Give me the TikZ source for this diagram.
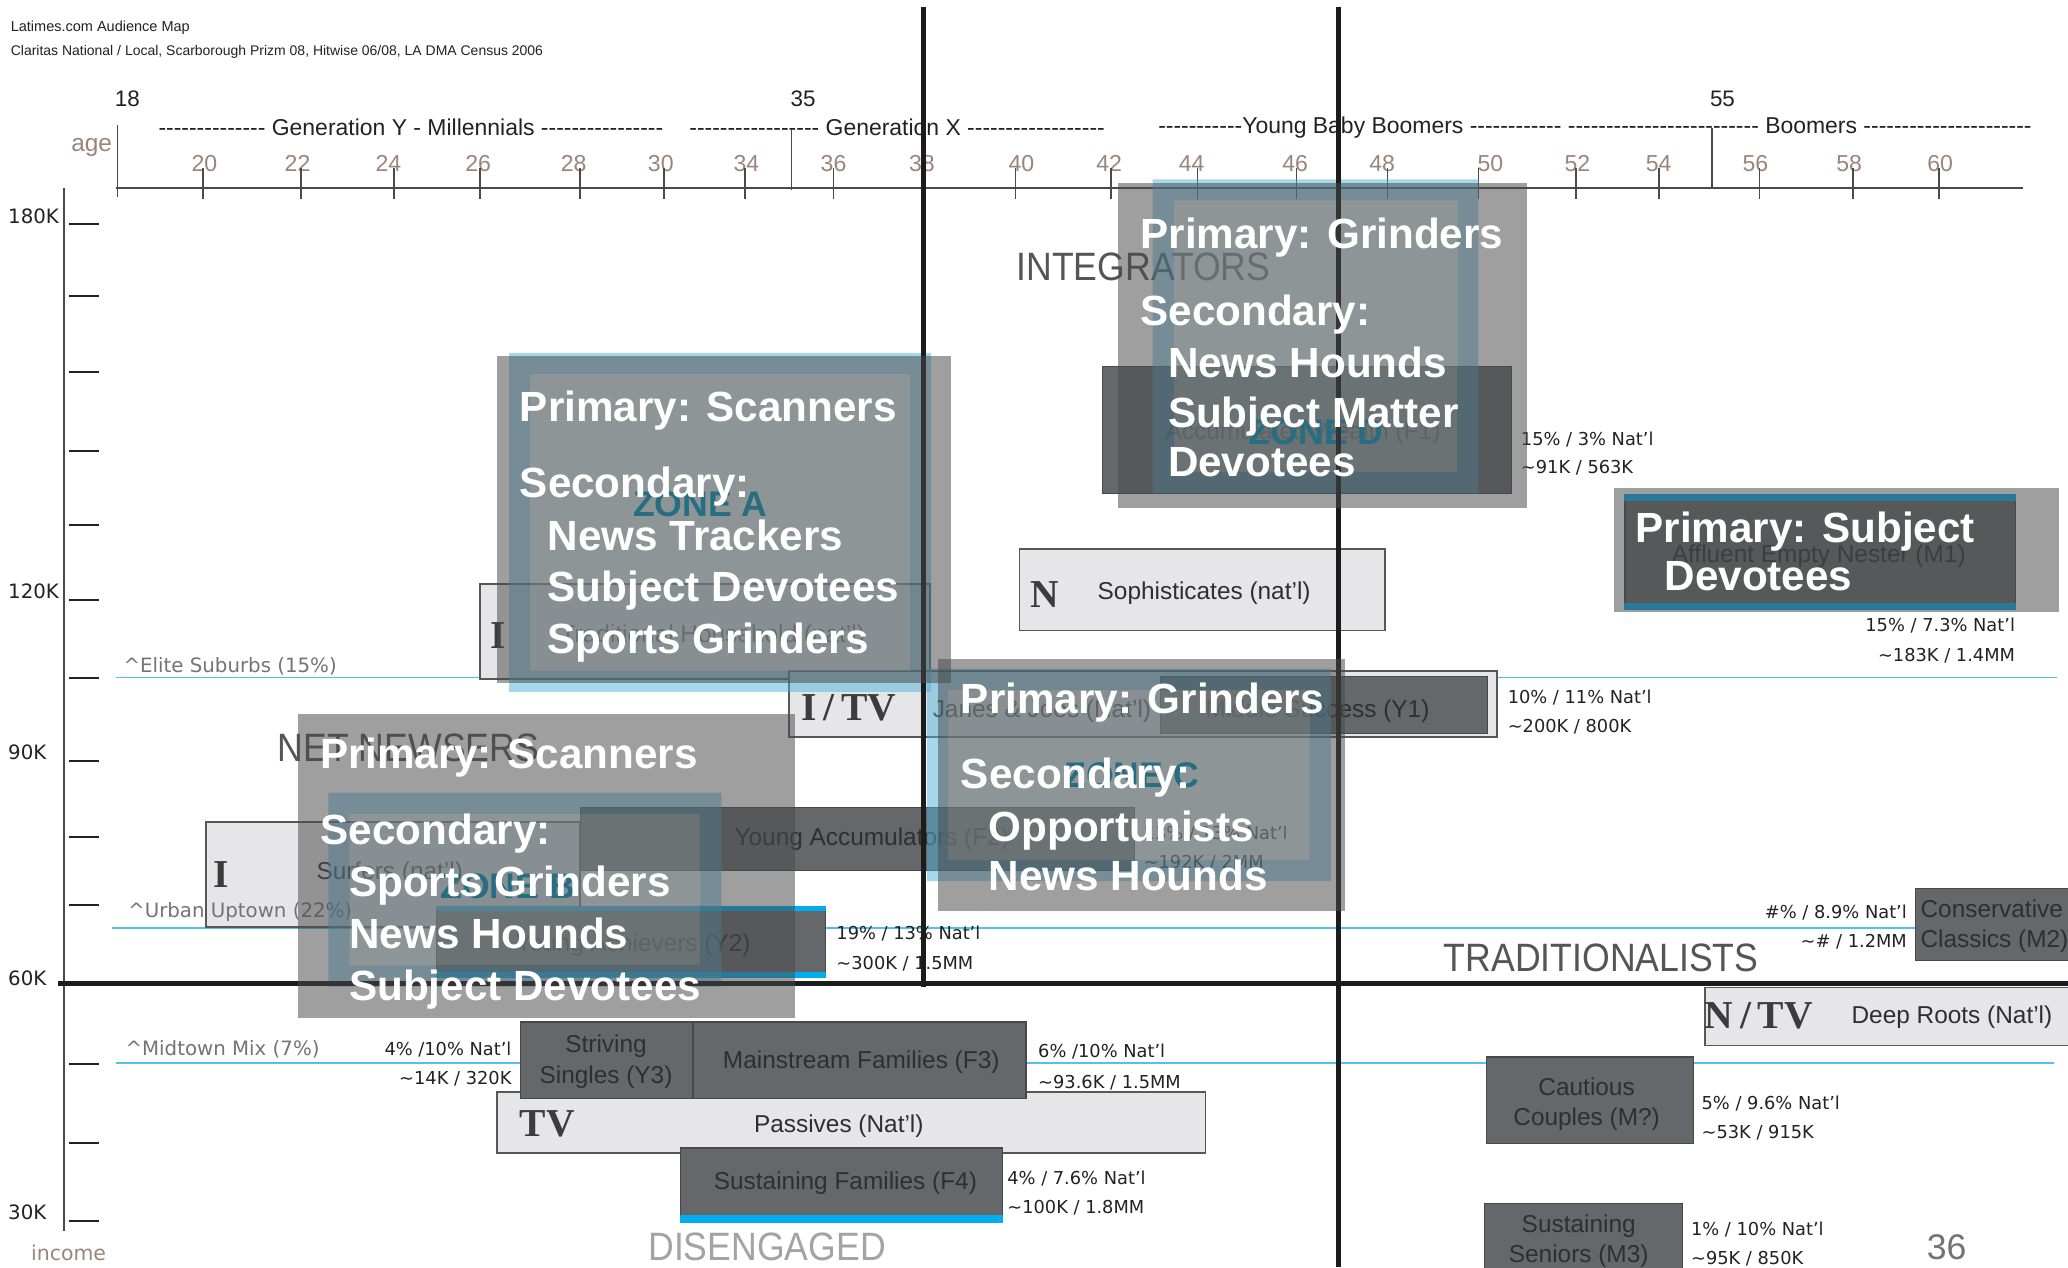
\documentclass[tikz,border=0pt]{standalone}
\usepackage{fontspec}
\usepackage{graphicx}
\setmainfont{Liberation Sans}
\newfontfamily\dejavu{DejaVu Sans}
\newfontfamily\slab{Liberation Serif}

\newcommand\setsz[1]{\fontsize{#1}{#1}\selectfont}
\newcommand\boxfont{\fontsize{18.5}{23}\selectfont}
% a run of separate hyphens (boxed so they never merge into dashes)
\newcommand\hy[1]{\foreach \dashidx in {1,...,#1}{\mbox{-}}}

\definecolor{ink}{HTML}{222222}
\definecolor{boxdark}{HTML}{66676B}
\definecolor{boxedge}{HTML}{47484A}
\definecolor{boxtext}{HTML}{2F2F2F}
\definecolor{boxlight}{HTML}{E6E6E8}
\definecolor{lightedge}{HTML}{56575A}
\definecolor{segblue}{HTML}{4FC3EE}
\definecolor{seggray}{HTML}{747474}
\definecolor{barblue}{HTML}{00AEEF}
\definecolor{zoneband}{HTML}{51B1D9}
\definecolor{zoneinner}{HTML}{B7D5DD}
\definecolor{zonetext}{HTML}{0096C4}
\definecolor{veil}{HTML}{4B4B4B}
\definecolor{agebrown}{HTML}{9B8579}
\definecolor{quadgray}{HTML}{555555}
\definecolor{disgray}{HTML}{A3A3A3}
\definecolor{mediagray}{HTML}{3C3C3C}
\definecolor{crossblack}{HTML}{1C1C1C}
\definecolor{axisgray}{HTML}{4A4A4A}

\tikzset{
  darkbox/.style={draw=boxedge, fill=boxdark, line width=1pt, inner sep=0pt},
  lightbox/.style={draw=lightedge, fill=boxlight, line width=1.3pt, inner sep=0pt},
  boxlbl/.style={font=\boxfont, text=boxtext, align=center, inner sep=0pt},
  media/.style={font=\slab\bfseries\setsz{30}, text=mediagray, inner sep=0pt},
  stat/.style={font=\dejavu\setsz{13.5}, text=ink, inner sep=0pt, anchor=west},
  statR/.style={stat, anchor=east},
  seglbl/.style={font=\dejavu\setsz{15}, text=seggray, anchor=west, inner sep=0pt},
  segline/.style={draw=segblue, line width=1.2pt},
  quad/.style={font=\setsz{30}, text=quadgray, inner sep=0pt},
  zonelbl/.style={font=\bfseries\setsz{27}, text=zonetext, inner sep=0pt},
  veilbox/.style={fill=veil, fill opacity=0.53},
  bandfill/.style={fill=zoneband, fill opacity=0.5, even odd rule},
  innerfill/.style={fill=zoneinner, fill opacity=0.5},
  callout/.style={font=\bfseries\setsz{32}, text=white, anchor=west, inner sep=0pt, text height=23pt, text depth=0pt},
  agenum/.style={font=\setsz{17.5}, text=agebrown, inner sep=0pt},
  gen/.style={font=\setsz{17.4}, text=ink, inner sep=0pt, anchor=west},
  incnum/.style={font=\dejavu\setsz{15}, text=ink, anchor=west, inner sep=0pt},
  cross/.style={draw=crossblack, line width=3.6pt},
  axis/.style={draw=axisgray, line width=1.3pt},
}

\begin{document}
\begin{tikzpicture}[x=1pt,y=-1pt]
\useasboundingbox (0,0) rectangle (1568,961);
\clip (0,0) rectangle (1568,961);
\fill[white] (0,0) rectangle (1568,961);

% ---------- header ----------
\node[anchor=west, font=\setsz{11}, text=ink, inner sep=0pt] (title) at (8,21) {Latimes.com Audience Map};
\node[anchor=west, font=\setsz{10.6}, text=ink, inner sep=0pt] (sources) at (8,39) {Claritas National / Local, Scarborough Prizm 08, Hitwise 06/08, LA DMA Census 2006};

% ---------- income segment lines ----------
\draw[segline] (88,513.8) -- (1560,513.8);
\draw[segline] (85,703.6) -- (1560,703.6);
\draw[segline] (88,806) -- (1557,806);

% ---------- age axis ----------
\node[font=\setsz{17}, text=ink, inner sep=0pt] (a18) at (96.6,75) {18};
\node[font=\setsz{17}, text=ink, inner sep=0pt] (a35) at (609,75) {35};
\node[font=\setsz{17}, text=ink, inner sep=0pt] (a55) at (1306,75) {55};
\node[gen] (genY) at (120,96.7) {\hy{14} Generation Y - Millennials \hy{16}};
\node[gen] (genX) at (522.5,96.7) {\hy{17} Generation X \hy{18}};
\node[gen] (genB) at (878,96.7) {\hy{11}Young Baby Boomers \hy{12} \hy{25} Boomers \hy{22}};
\node[font=\setsz{18.5}, text=agebrown, inner sep=0pt] (agelbl) at (69.5,112) {age};
\draw[axis] (88,142.8) -- (1534,142.8);
\draw[axis] (89,95) -- (89,149);
\draw[axis, line width=1pt] (600,98) -- (600,144);
\draw[axis, line width=1pt] (1298,97) -- (1298,143);
\foreach \x/\n in {155/20,225.6/22,294.5/24,362.5/26,435/28,501/30,566/34,632/36,699/38,774.5/40,841/42,903.5/44,982/46,1048/48,1130/50,1196/52,1257.6/54,1331/56,1402/58,1471/60}
  \node[agenum] (age\n) at (\x,124) {\n};
\foreach \x in {154,228,299,364,440,503.6,565,632,700,770,842.6,908,983,1052,1121,1195,1258,1334,1405,1470}
  \draw[axis] (\x,127.6) -- (\x,151);

% ---------- income axis ----------
\draw[draw=axisgray, line width=1.5pt] (48.5,142.5) -- (48.5,933);
\foreach \y in {169.6,224.5,282,341.6,398,455,513.8,577,634.6,686,807,866.6,925.6}
  \draw[draw=ink, line width=1.5pt] (52,\y) -- (75,\y);
\node[incnum] (i180) at (6,163.8) {180K};
\node[incnum] (i120) at (6,448) {120K};
\node[incnum] (i90) at (6,570.6) {90K};
\node[incnum] (i60) at (6,741.6) {60K};
\node[incnum] (i30) at (6,919.4) {30K};
\node[font=\dejavu\setsz{15.5}, text=agebrown, inner sep=0pt] (inclbl) at (52,949.6) {income};

% ---------- quadrant names ----------
\node[quad] (integrators) at (867,202) {\scalebox{0.9}[1]{INTEGRATORS}};
\node[quad, anchor=west] (netnewsers) at (210.5,567) {\scalebox{0.9}[1]{NET NEWSERS}};
\node[quad] (traditionalists) at (1214,726.6) {\scalebox{0.9}[1]{TRADITIONALISTS}};
\node[quad, text=disgray] (disengaged) at (581.6,945.4) {\scalebox{0.9}[1]{DISENGAGED}};

% ---------- national (light) segment boxes ----------
\node[lightbox, minimum width=537pt, minimum height=46pt] (passives) at (645.5,851) {};
\node[lightbox, minimum width=277pt, minimum height=62pt] (soph) at (911.5,447) {};
\node[lightbox, minimum width=341pt, minimum height=72pt] (topI) at (534.5,479) {};
\node[lightbox, minimum width=537pt, minimum height=50pt] (itv) at (866.5,534) {};
\node[lightbox, minimum width=284pt, minimum height=80pt] (lowI) at (298,663) {};
\node[lightbox, anchor=north west, minimum width=300pt, minimum height=44pt] (deeproots) at (1292,748) {};

\node[media] (passivesM) at (415,852) {TV};
\node[boxlbl] (passivesT) at (636,854) {Passives (Nat’l)};
\node[media] (sophM) at (792,451) {N};
\node[boxlbl] (sophT) at (913,450) {Sophisticates (nat’l)};
\node[media] (topIM) at (378,482) {I};
\node[boxlbl, text=boxtext!80] (topIT) at (540.5,482) {Traditional Household (nat’l)};
\node[media] (itvM) at (643.6,537) {I\,/\,TV};
\node[boxlbl] (itvT) at (790,539) {Janes \& Joes (Nat’l)};
\node[media] (lowIM) at (168,663) {I};
\node[boxlbl] (lowIT) at (295.5,662) {Surfers (nat’l)};
\node[media] (deeprootsM) at (1333.5,770) {N\,/\,TV};
\node[boxlbl] (deeprootsT) at (1480,771) {Deep Roots (Nat’l)};

% ---------- local (dark) segment boxes ----------
\node[darkbox, minimum width=310pt, minimum height=96pt] (accum) at (991,326) {};
\node[boxlbl] (accumT) at (988,328.5) {Accumulated Wealth (F1)};

\node[darkbox, minimum width=296pt, minimum height=87pt] (affl) at (1380,418.5) {};
\fill[barblue] (affl.north west) rectangle ([yshift=-5pt]affl.north east);
\fill[barblue] ([yshift=5pt]affl.south west) rectangle (affl.south east);
\node[boxlbl] (afflT) at (1379,422) {Affluent Empty Nester (M1)};

\node[darkbox, minimum width=248pt, minimum height=43pt] (midsucc) at (1004,534.5) {};
\node[boxlbl] (midsuccT) at (999,539) {Middle Success (Y1)};

\node[darkbox, minimum width=420pt, minimum height=48pt] (youngacc) at (650,636) {};
\node[boxlbl] (youngaccT) at (661,636) {Young Accumulators (F2)};

\node[darkbox, minimum width=295pt, minimum height=53.5pt] (youngach) at (478.5,714) {};
\fill[barblue] (youngach.north west) rectangle ([yshift=-4pt]youngach.north east);
\fill[barblue] ([yshift=4pt]youngach.south west) rectangle (youngach.south east);
\node[boxlbl] (youngachT) at (480,716.5) {Young Achievers (Y2)};

\node[darkbox, anchor=north west, minimum width=130pt, minimum height=55pt] (conserv) at (1452,673) {};
\node[boxlbl, align=left, anchor=west] (conservT) at (1456,702) {Conservative\\Classics (M2)};

\node[darkbox, minimum width=130.5pt, minimum height=58pt] (striving) at (460,804) {};
\node[boxlbl] (strivingT) at (459.5,805) {Striving\\Singles (Y3)};

\node[darkbox, minimum width=252.5pt, minimum height=58pt] (mainstream) at (651.75,804) {};
\node[boxlbl] (mainstreamT) at (653,805) {Mainstream Families (F3)};

\node[darkbox, minimum width=244pt, minimum height=56pt] (sustfam) at (638,898.5) {};
\fill[barblue] ([yshift=5.5pt]sustfam.south west) rectangle (sustfam.south east);
\node[boxlbl] (sustfamT) at (641,897) {Sustaining Families (F4)};

\node[darkbox, minimum width=157pt, minimum height=65.5pt] (cautious) at (1205.5,834.25) {};
\node[boxlbl] (cautiousT) at (1203,837) {Cautious\\Couples (M?)};

\node[darkbox, anchor=north west, minimum width=150pt, minimum height=70pt] (sustsen) at (1125,912) {};
\node[boxlbl] (sustsenT) at (1197,941) {Sustaining\\Seniors (M3)};

% ---------- segment-line labels ----------
\node[seglbl] (elite) at (93.5,505) {\textasciicircum Elite Suburbs (15\%)};
\node[seglbl] (urban) at (97,691.7) {\textasciicircum Urban Uptown (22\%)};
\node[seglbl] (midtown) at (95,795.6) {\textasciicircum Midtown Mix (7\%)};

% ---------- share / household figures ----------
\node[stat] (accumS1) at (1153,333) {15\% / 3\% Nat’l};
\node[stat] (accumS2) at (1153,355) {\textasciitilde 91K / 563K};
\node[statR] (afflS1) at (1528,474) {15\% / 7.3\% Nat’l};
\node[statR] (afflS2) at (1528,497) {\textasciitilde 183K / 1.4MM};
\node[stat] (midsuccS1) at (1143,529) {10\% / 11\% Nat’l};
\node[stat] (midsuccS2) at (1143,551) {\textasciitilde 200K / 800K};
\node[stat] (youngaccS1) at (867,632) {13\% / 13\% Nat’l};
\node[stat] (youngaccS2) at (867,654) {\textasciitilde 192K / 2MM};
\node[stat] (youngachS1) at (634,708) {19\% / 13\% Nat’l};
\node[stat] (youngachS2) at (634,731) {\textasciitilde 300K / 1.5MM};
\node[statR] (conservS1) at (1446,692) {\#\% / 8.9\% Nat’l};
\node[statR] (conservS2) at (1446,714) {\textasciitilde\# / 1.2MM};
\node[statR] (strivingS1) at (388,796) {4\% /10\% Nat’l};
\node[statR] (strivingS2) at (388,818) {\textasciitilde 14K / 320K};
\node[stat] (mainstreamS1) at (787,797) {6\% /10\% Nat’l};
\node[stat] (mainstreamS2) at (787,820.6) {\textasciitilde 93.6K / 1.5MM};
\node[stat] (sustfamS1) at (763.6,893.4) {4\% / 7.6\% Nat’l};
\node[stat] (sustfamS2) at (763.6,916) {\textasciitilde 100K / 1.8MM};
\node[stat] (cautiousS1) at (1290,837) {5\% / 9.6\% Nat’l};
\node[stat] (cautiousS2) at (1290,859) {\textasciitilde 53K / 915K};
\node[stat] (sustsenS1) at (1282,932) {1\% / 10\% Nat’l};
\node[stat] (sustsenS2) at (1282,954) {\textasciitilde 95K / 850K};

% ---------- zone frames ----------
\fill[bandfill] (386,267.5) rectangle (706,524.5) (402,283.5) rectangle (690,508.5);
\fill[innerfill] (402,283.5) rectangle (690,508.5);
\fill[bandfill] (249,601) rectangle (547,748) (265,617) rectangle (531,732);
\fill[innerfill] (265,617) rectangle (531,732);
\fill[bandfill] (703,507) rectangle (1009,668) (719,523) rectangle (993,652);
\fill[innerfill] (719,523) rectangle (993,652);
\fill[bandfill] (874,136) rectangle (1121,374) (890,152) rectangle (1105,358);
\fill[innerfill] (890,152) rectangle (1105,358);
\node[zonelbl] (zoneA) at (531,382) {ZONE A};
\node[zonelbl] (zoneB) at (385,672) {ZONE B};
\node[zonelbl] (zoneC) at (858,588) {ZONE C};
\node[zonelbl] (zoneD) at (998,328) {ZONE D};

% ---------- quadrant cross ----------
\draw[cross] (700,5) -- (700,748);
\draw[cross] (1015,5) -- (1015,961);
\draw[cross, line width=4pt] (44,745.6) -- (1568,745.6);

% ---------- audience call-outs ----------
\fill[veilbox] (377,270) rectangle (721,518);
\fill[veilbox] (226,541) rectangle (603,772);
\fill[veilbox] (711,500) rectangle (1020,691);
\fill[veilbox] (848,139) rectangle (1158,385);
\fill[veilbox] (1224,370) rectangle (1561,464);

\node[callout] (dP) at (864.5,177) {Primary: Grinders};
\node[callout] (dS) at (864.5,235) {Secondary:};
\node[callout] (d1) at (885.4,275) {News Hounds};
\node[callout] (d2) at (885.4,313) {Subject Matter};
\node[callout] (d3) at (885.4,350) {Devotees};

\node[callout] (aP) at (394,308) {Primary: Scanners};
\node[callout] (aS) at (394,366) {Secondary:};
\node[callout] (a1) at (415,405.6) {News Trackers};
\node[callout] (a2) at (415,444.8) {Subject Devotees};
\node[callout] (a3) at (415,483.8) {Sports Grinders};

\node[callout] (bP) at (243,571) {Primary: Scanners};
\node[callout] (bS) at (243,629) {Secondary:};
\node[callout] (b1) at (264.6,668.5) {Sports Grinders};
\node[callout] (b2) at (264.6,707.5) {News Hounds};
\node[callout] (b3) at (264.6,747) {Subject Devotees};

\node[callout] (cP) at (728.4,529.3) {Primary: Grinders};
\node[callout] (cS) at (728.4,586.3) {Secondary:};
\node[callout] (c1) at (749.5,626.8) {Opportunists};
\node[callout] (c2) at (749.5,663.5) {News Hounds};

\node[callout] (eP) at (1240,400) {Primary: Subject};
\node[callout] (e1) at (1262,436) {Devotees};

% ---------- page number ----------
\node[font=\setsz{27}, text=black!55, inner sep=0pt] (pageno) at (1476,946) {36};
\end{tikzpicture}
\end{document}
